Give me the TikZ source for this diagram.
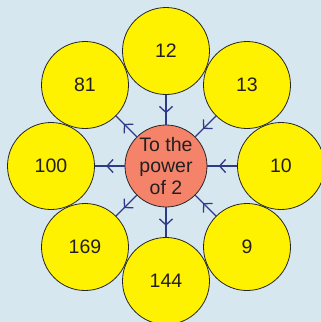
\documentclass[tikz,border=0pt]{standalone}
\usepackage{fontspec}
\setmainfont{Liberation Sans}
\usetikzlibrary{arrows.meta,decorations.markings}
\definecolor{bgblue}{HTML}{D7E7F0}
\definecolor{petal}{HTML}{FFF200}
\definecolor{core}{HTML}{F4836A}
\definecolor{linkblue}{HTML}{2E3A87}
\definecolor{inkgray}{HTML}{231F20}
\tikzset{
  petalnode/.style={circle, draw=black!85, line width=0.8pt, fill=petal, text=inkgray, minimum size=87pt, inner sep=0pt, font=\fontsize{19.5}{22}\selectfont},
  corenode/.style={circle, draw=black!85, line width=0.8pt, fill=core, text=inkgray, minimum size=82pt, inner sep=0pt, align=center, font=\fontsize{19.5}{21.7}\selectfont},
  flow/.style={draw=linkblue, line width=1.3pt, postaction={decorate}, decoration={markings, mark=at position 0.62 with {\arrow{Straight Barb[length=6pt,width=13pt,line width=1.3pt]}}}}
}
\begin{document}
\begin{tikzpicture}[x=1pt,y=-1pt]
\fill[bgblue] (0,0) rectangle (321,322);
\useasboundingbox (0,0) rectangle (321,322);
\node[corenode] (c) at (166,166) {To the\\power\\of 2};
\node[petalnode] (p12) at (166,51) {12};
\node[petalnode] (p13) at (247,85) {13};
\node[petalnode] (p10) at (281,166) {10};
\node[petalnode] (p9) at (247,247) {9};
\node[petalnode] (p144) at (166,281) {144};
\node[petalnode] (p169) at (85,247) {169};
\node[petalnode] (p100) at (51,166) {100};
\node[petalnode] (p81) at (85,85) {81};
\draw[flow] (p12) -- (c);
\draw[flow] (p13) -- (c);
\draw[flow] (p10) -- (c);
\draw[flow] (p9) -- (c);
\draw[flow] (c) -- (p144);
\draw[flow] (c) -- (p169);
\draw[flow] (c) -- (p100);
\draw[flow] (c) -- (p81);
\end{tikzpicture}
\end{document}
